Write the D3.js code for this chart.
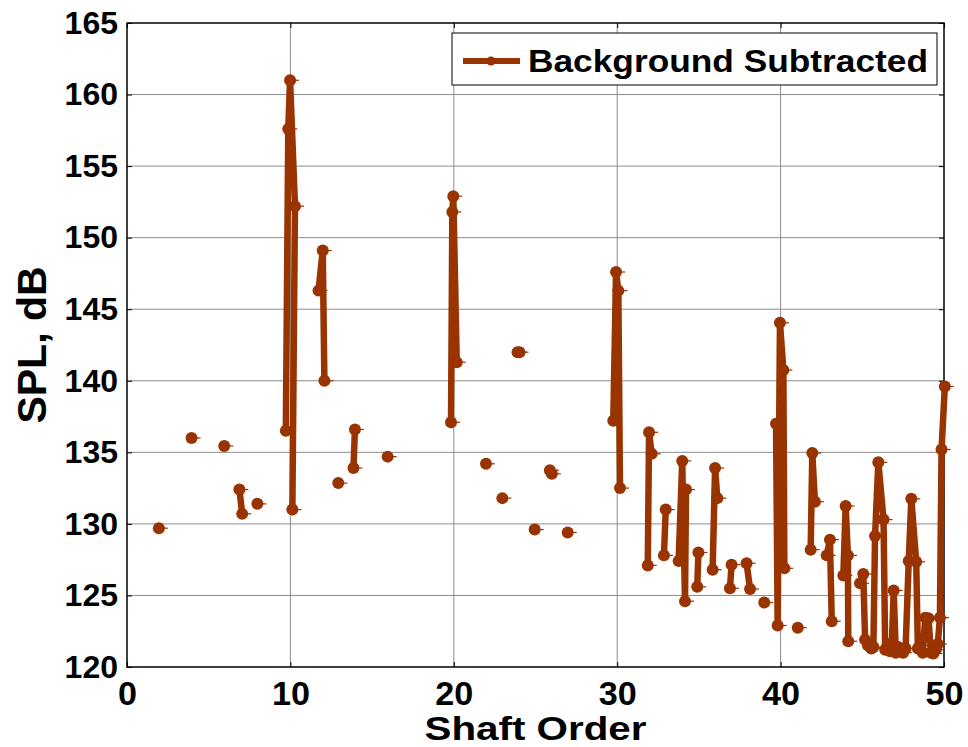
<!DOCTYPE html>
<html>
<head>
<meta charset="utf-8" />
<title>Background Subtracted SPL</title>
<style>
  body { margin: 0; background: #fff; }
  text { font-family: "Liberation Sans", Arial, sans-serif; font-weight: bold; }
</style>
</head>
<body>
<div id="chart"></div>
<script src="https://d3js.org/d3.v7.min.js"></script>
<script>
// shaft order / SPL pairs, null breaks the line
var orders = [1.95, null, 3.95, null, 5.95, null, 6.88, 7.05, null, 7.98, null,
  9.72, 9.87, 9.98, 10.28, 10.12, null, 11.72, 11.98, 12.08, null, 12.93, null,
  13.86, 13.95, null, 15.95, null, 19.83, 19.91, 19.97, 20.18, null, 21.97, null,
  22.97, null, 23.9, 24.02, null, 24.95, null, 25.88, 26.0, null, 26.97, null,
  29.76, 29.93, 30.07, 30.17, null, 31.87, 31.95, 32.11, null, 32.86, 32.97, null,
  33.76, 33.98, 34.15, 34.21, null, 34.9, 34.97, null, 35.84, 35.99, 36.13, null,
  36.9, 37.0, null, 37.92, 38.13, null, 39.0, null,
  39.72, 39.82, 39.96, 40.17, 40.23, null, 41.05, null,
  41.84, 41.94, 42.1, null, 42.82, 43.02, 43.13, null,
  43.84, 43.98, 44.12, 44.14, null, 44.86, 45.06, 45.17,
  45.35, 45.55, 45.68, 45.78, 45.98, 46.3, 46.4, 46.55, 46.7, 46.8, 46.92, 47.05,
  47.2, 47.35, 47.5, 47.65, 47.84, 48.0, 48.3, 48.4, 48.55, 48.7, 48.85, 49.05,
  49.2, 49.35, 49.5, 49.62, 49.75, 49.85, 50.05];
var spl = [129.7, null, 136.0, null, 135.45, null, 132.4, 130.7, null, 131.4, null,
  136.5, 157.6, 161.0, 152.2, 131.0, null, 146.3, 149.1, 140.0, null, 132.85, null,
  133.9, 136.6, null, 134.7, null, 137.1, 151.8, 152.9, 141.3, null, 134.2, null,
  131.8, null, 142.0, 142.0, null, 129.6, null, 133.75, 133.5, null, 129.4, null,
  137.2, 147.6, 146.3, 132.5, null, 127.1, 136.4, 134.9, null, 127.8, 131.0, null,
  127.4, 134.4, 124.6, 132.4, null, 125.6, 128.0, null, 126.8, 133.9, 131.8, null,
  125.5, 127.15, null, 127.25, 125.45, null, 124.5, null,
  137.0, 122.9, 144.05, 140.75, 126.9, null, 122.75, null,
  128.2, 134.95, 131.55, null, 127.8, 128.9, 123.2, null,
  126.4, 131.25, 127.8, 121.8, null, 125.85, 126.5, 121.9,
  121.5, 121.3, 121.4, 129.15, 134.3, 130.3, 121.2, 121.6, 121.1, 121.3, 125.35, 121.0,
  121.4, 121.1, 121.0, 121.3, 127.4, 131.75, 127.35, 121.3, 121.5, 121.0, 123.45, 123.4,
  121.0, 120.95, 121.2, 121.6, 123.45, 135.2, 139.6];
var xTicks = [0, 10, 20, 30, 40, 50];
var yTicks = [120, 125, 130, 135, 140, 145, 150, 155, 160, 165];
var seriesName = "Background Subtracted";

var width = 968, height = 747;
var plotL = 127, plotR = 944, plotT = 23, plotB = 667;
var colour = "#993300";

var svg = d3.select("#chart").append("svg")
  .attr("width", width).attr("height", height);

var x = d3.scaleLinear().domain([0, 50]).range([plotL, plotR]);
var y = d3.scaleLinear().domain([120, 165]).range([plotB, plotT]);

// grid
svg.append("g").selectAll("line").data(xTicks.slice(1, -1)).enter().append("line")
  .attr("x1", function(d){ return x(d); }).attr("x2", function(d){ return x(d); })
  .attr("y1", plotT).attr("y2", plotB)
  .attr("stroke", "#8c8c8c").attr("stroke-width", 1);
svg.append("g").selectAll("line").data(yTicks.slice(1, -1)).enter().append("line")
  .attr("y1", function(d){ return y(d); }).attr("y2", function(d){ return y(d); })
  .attr("x1", plotL).attr("x2", plotR)
  .attr("stroke", "#8c8c8c").attr("stroke-width", 1);

// axes, ticks point inward like matlab
var xAxis = svg.append("g").attr("transform", "translate(0," + plotB + ")")
  .call(d3.axisBottom(x).tickValues(xTicks).tickSizeInner(-5).tickSizeOuter(0).tickPadding(14));
var xTop = svg.append("g").attr("transform", "translate(0," + plotT + ")")
  .call(d3.axisTop(x).tickValues(xTicks).tickSizeInner(-5).tickSizeOuter(0).tickFormat(""));
var yAxis = svg.append("g").attr("transform", "translate(" + plotL + ",0)")
  .call(d3.axisLeft(y).tickValues(yTicks).tickSizeInner(-5).tickSizeOuter(0).tickPadding(9));
var yRight = svg.append("g").attr("transform", "translate(" + plotR + ",0)")
  .call(d3.axisRight(y).tickValues(yTicks).tickSizeInner(-5).tickSizeOuter(0).tickFormat(""));

[xAxis, xTop, yAxis, yRight].forEach(function(g){
  g.select(".domain").remove();
  g.selectAll("line").attr("stroke", "#000").attr("stroke-width", 1);
});
xAxis.selectAll("text").attr("font-size", 34).attr("fill", "#000")
  .attr("font-family", "Liberation Sans, Arial, sans-serif").attr("font-weight", "bold")
  .attr("textLength", function(d){ return String(d).length * 19; })
  .attr("lengthAdjust", "spacingAndGlyphs");
yAxis.selectAll("text").attr("font-size", 32).attr("fill", "#000")
  .attr("font-family", "Liberation Sans, Arial, sans-serif").attr("font-weight", "bold");

svg.append("rect").attr("x", plotL).attr("y", plotT)
  .attr("width", plotR - plotL).attr("height", plotB - plotT)
  .attr("fill", "none").attr("stroke", "#000").attr("stroke-width", 1.5);

// series
var pts = orders.map(function(d, i){ return [d, spl[i]]; });
var line = d3.line()
  .defined(function(d){ return d[0] !== null && d[1] !== null; })
  .x(function(d){ return x(d[0]); })
  .y(function(d){ return y(d[1]); });

svg.append("path").datum(pts).attr("d", line)
  .attr("fill", "none").attr("stroke", colour).attr("stroke-width", 6.5)
  .attr("stroke-linejoin", "round");

var marks = svg.append("g").selectAll("g")
  .data(pts.filter(function(d){ return d[0] !== null; }))
  .enter().append("g")
  .attr("transform", function(d){ return "translate(" + x(d[0]) + "," + y(d[1]) + ")"; });
marks.append("circle").attr("r", 6).attr("fill", colour);
marks.append("line").attr("x1", 5).attr("x2", 9).attr("y1", 0).attr("y2", 0)
  .attr("stroke", colour).attr("stroke-width", 1.2);

// legend
var lg = svg.append("g");
lg.append("rect").attr("x", 452).attr("y", 33).attr("width", 485).attr("height", 52)
  .attr("fill", "#fff").attr("stroke", "#000").attr("stroke-width", 1);
lg.append("line").attr("x1", 463).attr("x2", 520).attr("y1", 61).attr("y2", 61)
  .attr("stroke", colour).attr("stroke-width", 6);
lg.append("circle").attr("cx", 491).attr("cy", 61).attr("r", 4.5).attr("fill", colour);
lg.append("text").attr("x", 528).attr("y", 72).attr("font-size", 32)
  .attr("textLength", 400).attr("lengthAdjust", "spacingAndGlyphs")
  .text(seriesName);

// axis titles
svg.append("text").attr("x", (plotL + plotR) / 2).attr("y", 740)
  .attr("text-anchor", "middle").attr("font-size", 34)
  .attr("textLength", 222).attr("lengthAdjust", "spacingAndGlyphs")
  .text("Shaft Order");
svg.append("text").attr("transform", "translate(46," + ((plotT + plotB) / 2) + ") rotate(-90)")
  .attr("text-anchor", "middle").attr("font-size", 41)
  .text("SPL, dB");
</script>
</body>
</html>
